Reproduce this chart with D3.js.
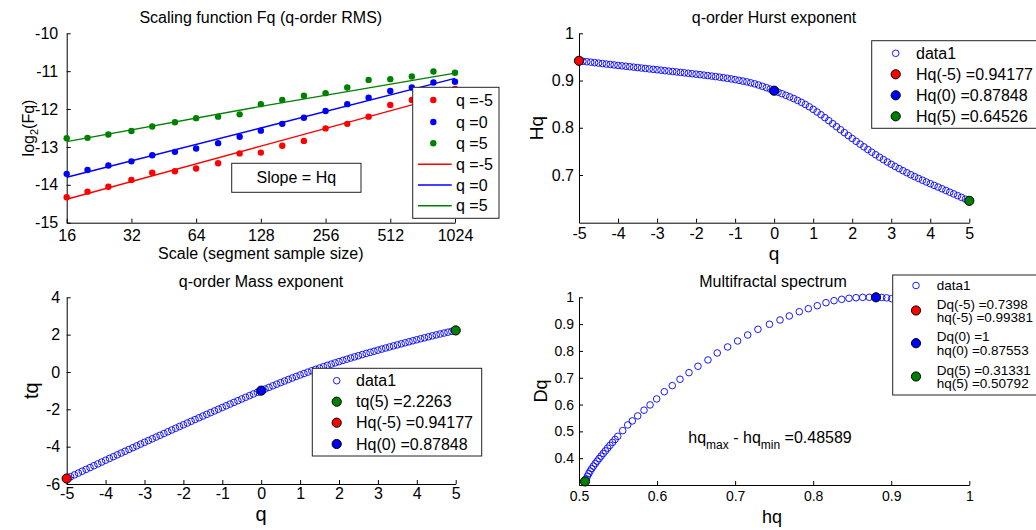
<!DOCTYPE html>
<html>
<head>
<meta charset="utf-8">
<script src="https://cdn.jsdelivr.net/npm/d3@7"></script>
<style>
  body { margin: 0; background: #fff; }
</style>
</head>
<body>
<svg id="chart" width="1036" height="530"></svg>
<script>
// ---- data: scaling function (top left) ----
const scales = [16, 20, 25, 32, 40, 51, 64, 81, 102, 128, 161, 203, 256, 323, 406, 512, 645, 813, 1024];
const fqNeg5 = [-14.33, -14.18, -14.05, -13.87, -13.68, -13.64, -13.57, -13.43, -13.17, -13.15,
                -12.97, -12.84, -12.51, -12.39, -12.20, -11.89, -11.76, -11.62, -11.47];
const fqZero = [-13.71, -13.61, -13.49, -13.38, -13.22, -13.13, -13.04, -12.90, -12.73, -12.57,
                -12.39, -12.23, -12.05, -11.87, -11.70, -11.52, -11.43, -11.30, -11.28];
const fqPos5 = [-12.77, -12.76, -12.67, -12.58, -12.46, -12.35, -12.24, -12.20, -12.14, -11.87,
                -11.76, -11.65, -11.58, -11.43, -11.23, -11.21, -11.14, -11.01, -11.04];
const fitScales = [16, 128, 1024];
const fitNeg5 = [-14.38, -12.98, -11.58];
const fitZero = [-13.80, -12.50, -11.19];
const fitPos5 = [-12.86, -11.93, -11.05];
const qLabels = ['q =-5', 'q =0', 'q =5'];

// ---- data: q-order Hurst and mass exponents ----
const qValues = [-5, -4.9, -4.8, -4.7, -4.6, -4.5, -4.4, -4.3, -4.2, -4.1,
  -4, -3.9, -3.8, -3.7, -3.6, -3.5, -3.4, -3.3, -3.2, -3.1,
  -3, -2.9, -2.8, -2.7, -2.6, -2.5, -2.4, -2.3, -2.2, -2.1,
  -2, -1.9, -1.8, -1.7, -1.6, -1.5, -1.4, -1.3, -1.2, -1.1,
  -1, -0.9, -0.8, -0.7, -0.6, -0.5, -0.4, -0.3, -0.2, -0.1,
  0, 0.1, 0.2, 0.3, 0.4, 0.5, 0.6, 0.7, 0.8, 0.9,
  1, 1.1, 1.2, 1.3, 1.4, 1.5, 1.6, 1.7, 1.8, 1.9,
  2, 2.1, 2.2, 2.3, 2.4, 2.5, 2.6, 2.7, 2.8, 2.9,
  3, 3.1, 3.2, 3.3, 3.4, 3.5, 3.6, 3.7, 3.8, 3.9,
  4, 4.1, 4.2, 4.3, 4.4, 4.5, 4.6, 4.7, 4.8, 4.9,
  5];
const hurst = [0.94177, 0.9408, 0.9398, 0.9389, 0.9379, 0.9369, 0.9359, 0.9349, 0.9340, 0.9330,
  0.9320, 0.9311, 0.9302, 0.9292, 0.9283, 0.9274, 0.9265, 0.9256, 0.9246, 0.9237,
  0.9228, 0.9219, 0.9209, 0.9200, 0.9191, 0.9182, 0.9172, 0.9163, 0.9154, 0.9144,
  0.9135, 0.9125, 0.9115, 0.9105, 0.9094, 0.9083, 0.9072, 0.9060, 0.9047, 0.9034,
  0.9020, 0.9004, 0.8988, 0.8971, 0.8951, 0.8930, 0.8905, 0.8878, 0.8850, 0.8819,
  0.87848, 0.8753, 0.8721, 0.8688, 0.8654, 0.8618, 0.8579, 0.8537, 0.8492, 0.8443,
  0.8390, 0.8334, 0.8275, 0.8214, 0.8151, 0.8087, 0.8023, 0.7959, 0.7896, 0.7834,
  0.7773, 0.7713, 0.7654, 0.7596, 0.7539, 0.7483, 0.7429, 0.7376, 0.7325, 0.7275,
  0.7227, 0.7180, 0.7135, 0.7091, 0.7048, 0.7006, 0.6966, 0.6927, 0.6889, 0.6852,
  0.6816, 0.6780, 0.6744, 0.6708, 0.6672, 0.6636, 0.6600, 0.6563, 0.6526, 0.6489,
  0.64526];
const massExp = [-5.709, -5.610, -5.511, -5.413, -5.314, -5.216, -5.118, -5.020, -4.923, -4.825,
  -4.728, -4.631, -4.535, -4.438, -4.342, -4.246, -4.150, -4.054, -3.959, -3.863,
  -3.768, -3.674, -3.579, -3.484, -3.390, -3.296, -3.201, -3.107, -3.014, -2.920,
  -2.827, -2.734, -2.641, -2.548, -2.455, -2.362, -2.270, -2.178, -2.086, -1.994,
  -1.902, -1.810, -1.719, -1.628, -1.537, -1.447, -1.356, -1.266, -1.177, -1.088,
  -1.000, -0.912, -0.826, -0.739, -0.654, -0.569, -0.485, -0.402, -0.321, -0.240,
  -0.161, -0.083, -0.007, 0.068, 0.141, 0.213, 0.284, 0.353, 0.421, 0.488,
  0.555, 0.620, 0.684, 0.747, 0.809, 0.871, 0.932, 0.992, 1.051, 1.110,
  1.168, 1.226, 1.283, 1.340, 1.396, 1.452, 1.508, 1.563, 1.618, 1.672,
  1.726, 1.780, 1.832, 1.884, 1.936, 1.986, 2.036, 2.085, 2.132, 2.180,
  2.2263];
const markQ = [-5, 0, 5];
const markHurst = [0.94177, 0.87848, 0.64526];
const markMass = [-5.709, -1, 2.2263];

// ---- data: multifractal spectrum (q = 5 ... -5) ----
const hqSpec = [0.5077, 0.5092, 0.5108, 0.5125, 0.5143, 0.5163, 0.5185, 0.5208, 0.5232, 0.5257,
  0.5283, 0.5310, 0.5338, 0.5367, 0.5397, 0.5430, 0.5462, 0.5496, 0.5560, 0.5624,
  0.5683, 0.5752, 0.5833, 0.5910, 0.5995, 0.6093, 0.6195, 0.6294, 0.6409, 0.6524,
  0.6652, 0.6771, 0.6904, 0.7032, 0.7161, 0.7292, 0.7440, 0.7575, 0.7694, 0.7822,
  0.7938, 0.8053, 0.8164, 0.8267, 0.8365, 0.8459, 0.8549, 0.8634, 0.8719, 0.8805,
  0.8878, 0.8940, 0.9005, 0.9080, 0.9160, 0.9250, 0.9350, 0.9450, 0.9550, 0.9650,
  0.9750, 0.9850, 0.9938];
const dqSpec = [0.3127, 0.3230, 0.3330, 0.3425, 0.3520, 0.3612, 0.3705, 0.3797, 0.3890, 0.3983,
  0.4078, 0.4175, 0.4273, 0.4375, 0.4480, 0.4590, 0.4700, 0.4815, 0.5028, 0.524,
  0.539, 0.5576, 0.579, 0.5986, 0.621, 0.648, 0.6705, 0.6944, 0.719, 0.7428,
  0.7663, 0.7924, 0.8148, 0.8371, 0.8595, 0.8807, 0.8994, 0.9154, 0.9303, 0.9463,
  0.9576, 0.9687, 0.9799, 0.9874, 0.9925, 0.9963, 0.9985, 0.9998, 1.0, 1.0,
  0.9995, 0.998, 0.995, 0.990, 0.983, 0.973, 0.960, 0.943, 0.922, 0.895,
  0.862, 0.820, 0.7398];
const markHqSpec = [0.99381, 0.8805, 0.5077];
const markDqSpec = [0.7398, 1, 0.31331];

const hurstLegend = ['data1', 'Hq(-5) =0.94177', 'Hq(0) =0.87848', 'Hq(5) =0.64526'];
const massLegend = ['data1', 'tq(5) =2.2263', 'Hq(-5) =0.94177', 'Hq(0) =0.87848'];
const specLegend = ['data1', ['Dq(-5) =0.7398', 'hq(-5) =0.99381'], ['Dq(0) =1', 'hq(0) =0.87553'], ['Dq(5) =0.31331', 'hq(5) =0.50792']];

const RED = '#ff0000', BLUE = '#0000ff', GREEN = '#008000';
const markColors = [RED, BLUE, GREEN];
const FONT = '"Liberation Sans", Arial, Helvetica, sans-serif';

const svg = d3.select('#chart').attr('font-family', FONT);
svg.append('rect').attr('width', 1036).attr('height', 530).attr('fill', '#fff');

function drawAxes(x, y, xt, yt, o) {
  const gx = svg.append('g')
    .attr('transform', 'translate(0,' + y.range()[0] + ')')
    .call(d3.axisBottom(x).tickValues(xt).tickSizeInner(-4).tickSizeOuter(0)
      .tickPadding(o.xPad).tickFormat(d => d));
  const gy = svg.append('g')
    .attr('transform', 'translate(' + x.range()[0] + ',0)')
    .call(d3.axisLeft(y).tickValues(yt).tickSizeInner(-4).tickSizeOuter(0)
      .tickPadding(o.yPad).tickFormat(d => d));
  [gx, gy].forEach(g => {
    g.attr('font-family', FONT).attr('font-size', o.fs);
    g.selectAll('path, line').attr('stroke', '#000');
    g.selectAll('text').attr('fill', '#000');
  });
}

function label(x, y, str, size, rotate) {
  const t = svg.append('text')
    .attr('text-anchor', 'middle')
    .attr('font-size', size)
    .attr('fill', '#000');
  if (rotate) t.attr('transform', 'translate(' + x + ',' + y + ') rotate(-90)');
  else t.attr('x', x).attr('y', y);
  if (str) t.text(str);
  return t;
}

function legendBox(x0, y0, w, h) {
  svg.append('rect')
    .attr('x', x0).attr('y', y0).attr('width', w).attr('height', h)
    .attr('fill', '#fff').attr('stroke', '#222').attr('stroke-width', 1);
}

function openCircles(g, xs, ys, x, y) {
  g.selectAll(null).data(xs).enter().append('circle')
    .attr('cx', d => x(d))
    .attr('cy', (d, i) => y(ys[i]))
    .attr('r', 3.3)
    .attr('fill', 'none')
    .attr('stroke', BLUE)
    .attr('stroke-width', 0.9);
}

function bigMarks(xs, ys, x, y) {
  svg.selectAll(null).data(xs).enter().append('circle')
    .attr('cx', d => x(d))
    .attr('cy', (d, i) => y(ys[i]))
    .attr('r', 4.6)
    .attr('fill', (d, i) => markColors[i])
    .attr('stroke', '#000')
    .attr('stroke-width', 1);
}

// ================= Top left: scaling function =================
{
  const x = d3.scaleLog().base(2).domain([16, 1024]).range([66.7, 455]);
  const y = d3.scaleLinear().domain([-15, -10]).range([222.7, 33.3]);
  drawAxes(x, y, [16, 32, 64, 128, 256, 512, 1024], [-15, -14, -13, -12, -11, -10],
    { xPad: 7, yPad: 8.5, fs: 16 });

  const fits = [fitNeg5, fitZero, fitPos5];
  const line = d3.line().x(d => x(d[0])).y(d => y(d[1]));
  fits.forEach((f, k) => {
    svg.append('path')
      .attr('d', line(fitScales.map((s, i) => [s, f[i]])))
      .attr('fill', 'none').attr('stroke', markColors[k]).attr('stroke-width', 1.4);
  });
  [fqNeg5, fqZero, fqPos5].forEach((series, k) => {
    svg.selectAll(null).data(scales).enter().append('circle')
      .attr('cx', d => x(d))
      .attr('cy', (d, i) => y(series[i]))
      .attr('r', 3.2)
      .attr('fill', markColors[k]);
  });

  label(260.8, 22.5, 'Scaling function Fq (q-order RMS)', 16);
  label(260.8, 258.5, 'Scale (segment sample size)', 16);
  const yl = label(34, 128, null, 16, true);
  yl.append('tspan').text('log');
  yl.append('tspan').attr('font-size', 11).attr('dy', 4).text('2');
  yl.append('tspan').attr('dy', -4).text('(Fq)');

  // slope annotation
  svg.append('rect').attr('x', 231.7).attr('y', 163.3).attr('width', 129.3).attr('height', 29)
    .attr('fill', '#fff').attr('stroke', '#222');
  label(296.3, 183, 'Slope = Hq', 16);

  // legend
  legendBox(412.7, 87.3, 86.3, 131);
  const rows = [100, 122, 143.3, 164.3, 185, 205.7];
  rows.forEach((ry, i) => {
    const c = markColors[i % 3];
    if (i < 3) {
      svg.append('circle').attr('cx', 433.3).attr('cy', ry).attr('r', 3.2).attr('fill', c);
    } else {
      svg.append('line').attr('x1', 418).attr('x2', 451.7).attr('y1', ry).attr('y2', ry)
        .attr('stroke', c).attr('stroke-width', 1.4);
    }
    svg.append('text').attr('x', 456).attr('y', ry).attr('dy', '0.36em')
      .attr('font-size', 16).text(qLabels[i % 3]);
  });
}

// ================= Top right: Hurst exponent =================
{
  const x = d3.scaleLinear().domain([-5, 5]).range([579, 969.3]);
  const y = d3.scaleLinear().domain([0.599, 1]).range([222.7, 33.3]);
  drawAxes(x, y, d3.range(-5, 6), [0.7, 0.8, 0.9, 1], { xPad: 5, yPad: 5, fs: 16 });
  openCircles(svg.append('g'), qValues, hurst, x, y);
  bigMarks(markQ, markHurst, x, y);

  label(774, 22.5, 'q-order Hurst exponent', 16);
  label(774, 259.5, 'q', 19);
  label(543, 128, 'Hq', 19, true);

  legendBox(871.7, 40.7, 170, 87.6);
  const rows = [53.3, 74.3, 95.3, 116.3];
  rows.forEach((ry, i) => {
    if (i === 0) {
      svg.append('circle').attr('cx', 895.7).attr('cy', ry).attr('r', 3.3)
        .attr('fill', 'none').attr('stroke', BLUE).attr('stroke-width', 0.9);
    } else {
      svg.append('circle').attr('cx', 895.7).attr('cy', ry).attr('r', 4.6)
        .attr('fill', markColors[i - 1]).attr('stroke', '#000');
    }
    svg.append('text').attr('x', 916).attr('y', ry).attr('dy', '0.36em')
      .attr('font-size', 16).text(hurstLegend[i]);
  });
}

// ================= Bottom left: mass exponent =================
{
  const x = d3.scaleLinear().domain([-5, 5]).range([66.7, 455.7]);
  const y = d3.scaleLinear().domain([-6, 4]).range([484, 297.3]);
  drawAxes(x, y, d3.range(-5, 6), [-6, -4, -2, 0, 2, 4], { xPad: 4, yPad: 6.5, fs: 16 });
  openCircles(svg.append('g'), qValues, massExp, x, y);
  bigMarks(markQ, markMass, x, y);

  label(261, 286.5, 'q-order Mass exponent', 16);
  label(261, 521, 'q', 20);
  label(38, 390.7, 'tq', 20, true);

  legendBox(312.3, 368.3, 169.4, 87.7);
  const rows = [380.7, 401.7, 422.7, 444];
  const order = [null, GREEN, RED, BLUE];
  rows.forEach((ry, i) => {
    if (i === 0) {
      svg.append('circle').attr('cx', 336.7).attr('cy', ry).attr('r', 3.3)
        .attr('fill', 'none').attr('stroke', BLUE).attr('stroke-width', 0.9);
    } else {
      svg.append('circle').attr('cx', 336.7).attr('cy', ry).attr('r', 4.6)
        .attr('fill', order[i]).attr('stroke', '#000');
    }
    svg.append('text').attr('x', 356).attr('y', ry).attr('dy', '0.36em')
      .attr('font-size', 16).text(massLegend[i]);
  });
}

// ================= Bottom right: multifractal spectrum =================
{
  const x = d3.scaleLinear().domain([0.5, 1]).range([579, 969.3]);
  const y = d3.scaleLinear().domain([0.3, 1]).range([485, 297.3]);
  drawAxes(x, y, [0.5, 0.6, 0.7, 0.8, 0.9, 1], [0.4, 0.5, 0.6, 0.7, 0.8, 0.9, 1],
    { xPad: 6, yPad: 5, fs: 14 });
  openCircles(svg.append('g'), hqSpec, dqSpec, x, y);
  bigMarks(markHqSpec, markDqSpec, x, y);

  label(773, 286.5, 'Multifractal spectrum', 16);
  label(772, 523, 'hq', 18);
  label(547, 391, 'Dq', 18, true);

  const ann = svg.append('text').attr('x', 688.3).attr('y', 443.4).attr('font-size', 16);
  ann.append('tspan').text('hq');
  ann.append('tspan').attr('font-size', 12).attr('dy', 6).text('max');
  ann.append('tspan').attr('dy', -6).text(' - hq');
  ann.append('tspan').attr('font-size', 12).attr('dy', 6).text('min');
  ann.append('tspan').attr('dy', -6).text(' =0.48589');

  legendBox(892.7, 275, 150, 120);
  svg.append('circle').attr('cx', 916).attr('cy', 285.5).attr('r', 3.3)
    .attr('fill', 'none').attr('stroke', BLUE).attr('stroke-width', 0.9);
  svg.append('text').attr('x', 936.7).attr('y', 285.5).attr('dy', '0.36em')
    .attr('font-size', 13.5).text(specLegend[0]);
  const rows = [310.5, 343.2, 376.5];
  rows.forEach((ry, i) => {
    svg.append('circle').attr('cx', 916).attr('cy', ry).attr('r', 4.6)
      .attr('fill', markColors[i]).attr('stroke', '#000');
    specLegend[i + 1].forEach((s, j) => {
      svg.append('text').attr('x', 936.7).attr('y', ry + (j === 0 ? -6.8 : 6.8)).attr('dy', '0.36em')
        .attr('font-size', 13.5).text(s);
    });
  });
}
</script>
</body>
</html>
